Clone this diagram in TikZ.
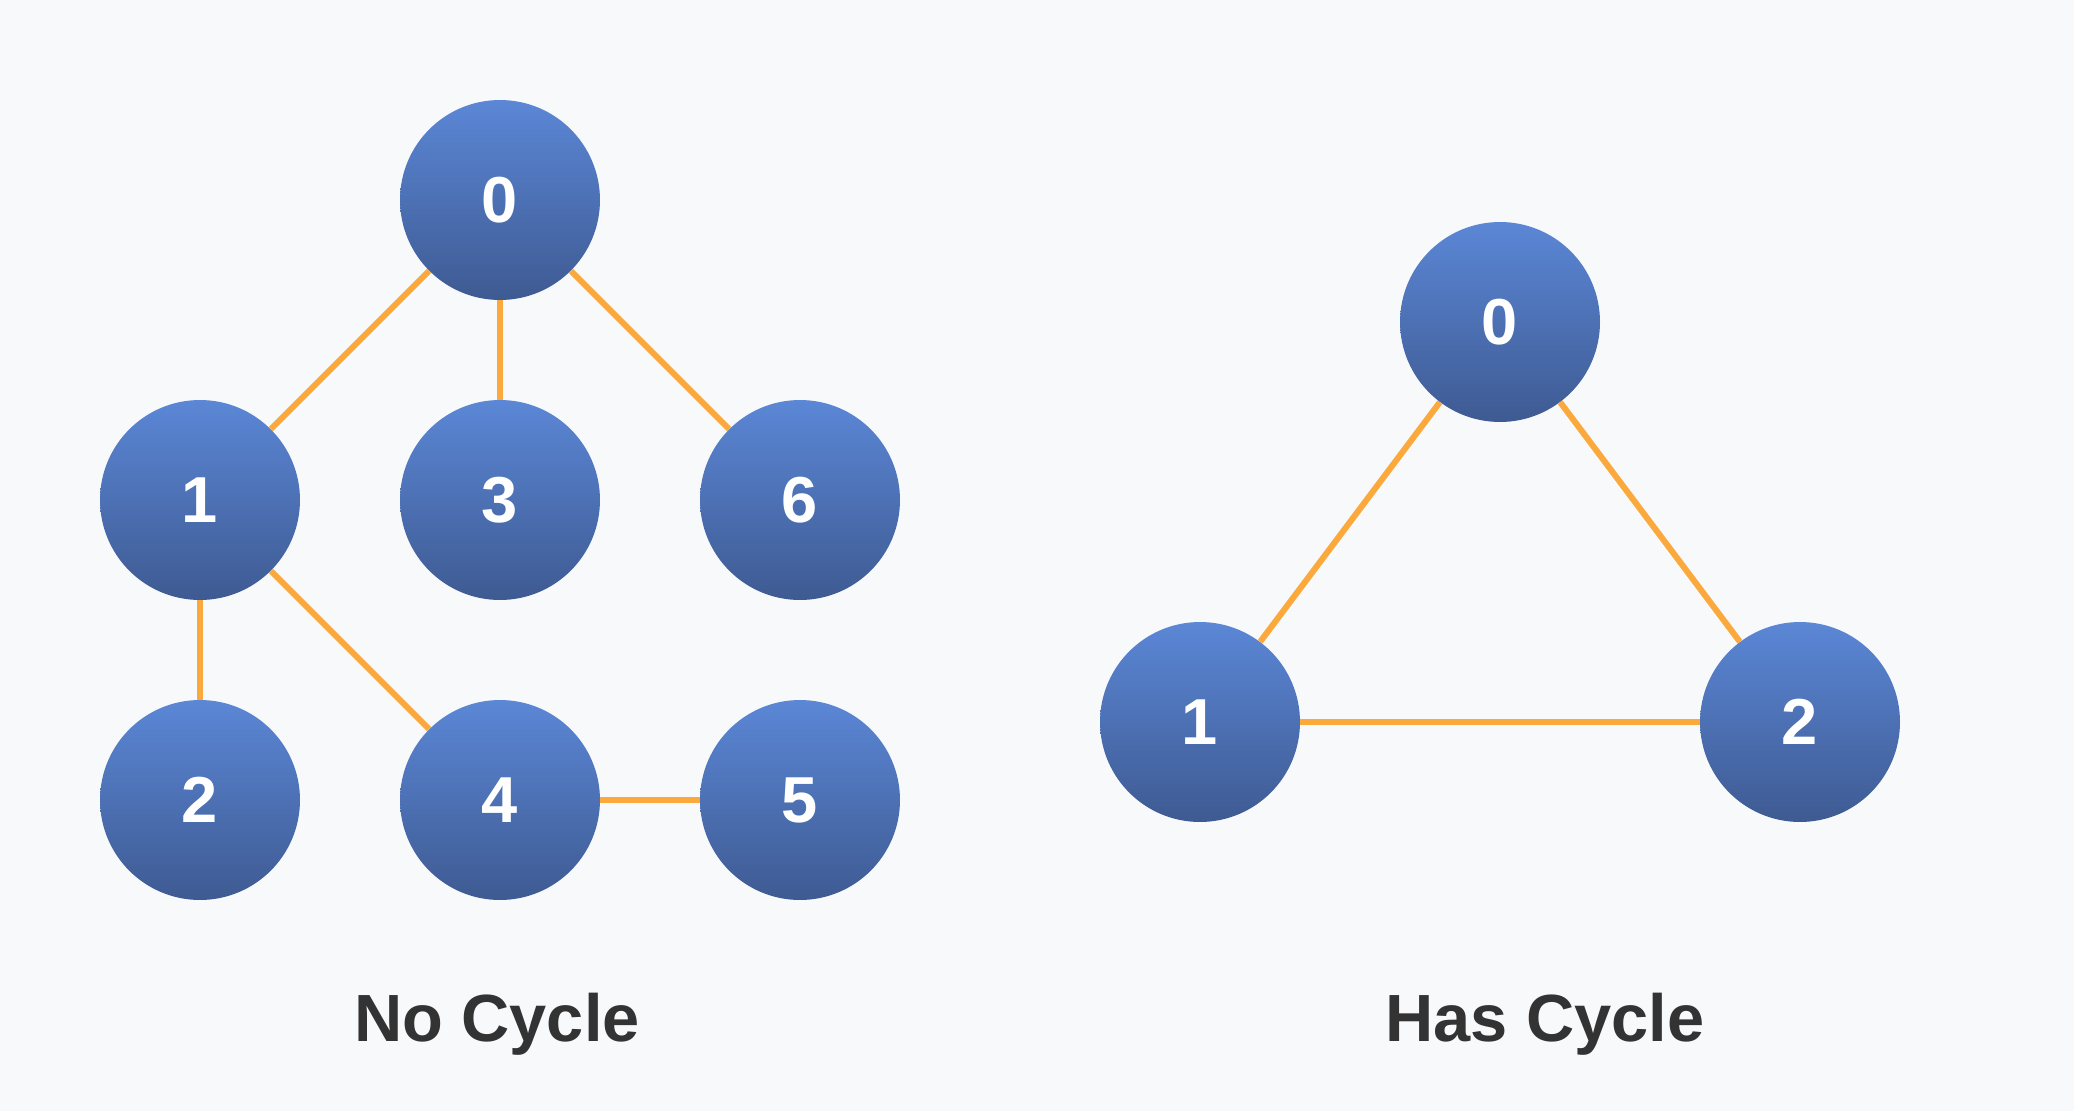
\documentclass[tikz,border=0pt]{standalone}
\usepackage{fontspec}
\setmainfont{Liberation Sans}
\definecolor{bgpaper}{HTML}{F8F9FA}
\definecolor{nodetop}{HTML}{5B87D6}
\definecolor{nodebot}{HTML}{3E5A92}
\definecolor{edgeorange}{HTML}{FBA83C}
\definecolor{labelgray}{HTML}{333333}
\tikzset{
	vertex/.style={circle, minimum size=4cm, inner sep=0pt, top color=nodetop, bottom color=nodebot, text=white, font=\fontsize{37}{40}\selectfont\bfseries},
	link/.style={edgeorange, line width=3.4pt},
	caption/.style={anchor=base, text=labelgray, font=\fontsize{38}{42}\selectfont\bfseries}
}
\begin{document}
\begin{tikzpicture}[x=0.02cm, y=-0.02cm]
	\fill[bgpaper] (0,0) rectangle (2074,1111);
	
	% graph without a cycle
	\node[vertex] (a0) at (500,200) {0};
	\node[vertex] (a1) at (200,500) {1};
	\node[vertex] (a3) at (500,500) {3};
	\node[vertex] (a6) at (800,500) {6};
	\node[vertex] (a2) at (200,800) {2};
	\node[vertex] (a4) at (500,800) {4};
	\node[vertex] (a5) at (800,800) {5};
	
	\draw[link] (a0) -- (a1);
	\draw[link] (a0) -- (a3);
	\draw[link] (a0) -- (a6);
	\draw[link] (a1) -- (a2);
	\draw[link] (a1) -- (a4);
	\draw[link] (a4) -- (a5);
	
	\node[caption] (nocyc) at (497,1041) {No Cycle};
	
	% graph with a cycle
	\node[vertex] (b0) at (1500,322) {0};
	\node[vertex] (b1) at (1200,722) {1};
	\node[vertex] (b2) at (1800,722) {2};
	
	\draw[link] (b0) -- (b1);
	\draw[link] (b0) -- (b2);
	\draw[link] (b1) -- (b2);
	
	\node[caption] (hascyc) at (1545,1041) {Has Cycle};
\end{tikzpicture}
\end{document}
